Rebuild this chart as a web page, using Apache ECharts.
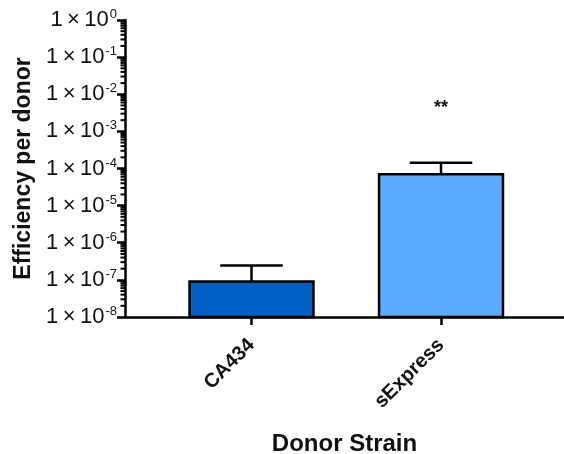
<!DOCTYPE html>
<html>
<head>
<meta charset="utf-8">
<script src="https://cdn.jsdelivr.net/npm/echarts@6/dist/echarts.min.js"></script>
<style>
  html, body { margin: 0; padding: 0; background: #fff; }
  #chart { width: 564px; height: 454px; }
</style>
</head>
<body>
<div id="chart"></div>
<script>
// 数据
const categories = ['CA434', 'sExpress'];
const means = [9e-8, 7e-5];
const upperErr = [2.45e-7, 1.42e-4];
const stars = ['', '**'];
const barColors = ['#0060C6', '#5AABFF'];
const decades = [-8, -7, -6, -5, -4, -3, -2, -1];

const chart = echarts.init(document.getElementById('chart'));
const font = 'Arial, "Liberation Sans", sans-serif';

// 对数小刻度 2..9
const minorTicks = [];
decades.forEach(e => {
  for (let m = 2; m <= 9; m++) minorTicks.push([0, m * Math.pow(10, e)]);
});

const barData = categories.map((c, i) => [i + 1, means[i], upperErr[i], i]);

const option = {
  animation: false,
  grid: { left: 125, right: 0, top: 20, bottom: 137, containLabel: false, outerBoundsMode: 'none' },
  xAxis: {
    type: 'value',
    min: 0.3325,
    max: 2.649,
    name: 'Donor Strain',
    nameLocation: 'middle',
    nameGap: 115,
    nameTextStyle: { fontFamily: font, fontWeight: 'bold', fontSize: 24, color: '#111' },
    splitLine: { show: false },
    axisLine: { show: true, lineStyle: { color: '#000', width: 2.5 } },
    axisTick: { show: true, length: 8, lineStyle: { color: '#000', width: 2.5 }, customValues: [1, 2] },
    axisLabel: {
      customValues: [1, 2],
      rotate: 45,
      margin: 25,
      fontFamily: font,
      fontWeight: 'bold',
      fontSize: 20,
      color: '#111',
      formatter: v => categories[Math.round(v) - 1] || ''
    }
  },
  yAxis: {
    type: 'log',
    logBase: 10,
    min: 1e-8,
    max: 1,
    name: 'Efficiency per donor',
    nameLocation: 'middle',
    nameGap: 89,
    nameTextStyle: { fontFamily: font, fontWeight: 'bold', fontSize: 23, color: '#111' },
    splitLine: { show: false },
    axisLine: { show: true, lineStyle: { color: '#000', width: 2.5 } },
    axisTick: { show: true, length: 8, lineStyle: { color: '#000', width: 2.5 } },
    axisLabel: {
      margin: 8,
      color: '#111',
      formatter: v => {
        const e = Math.round(Math.log10(v));
        return '{b|1\u2009×\u200910}{s|' + e + '}';
      },
      rich: {
        b: { fontFamily: font, fontSize: 22, color: '#111' },
        s: { fontFamily: font, fontSize: 13, color: '#111', padding: [0, 0, 11, 1] }
      }
    }
  },
  series: [
    {
      type: 'custom',
      silent: true,
      data: minorTicks,
      renderItem: (params, api) => {
        const p = api.coord([0.3325, api.value(1)]);
        return {
          type: 'line',
          shape: { x1: p[0] - 4.5, y1: p[1], x2: p[0], y2: p[1] },
          style: { stroke: '#000', lineWidth: 2 }
        };
      },
      z: 3
    },
    {
      type: 'custom',
      data: barData,
      renderItem: (params, api) => {
        const x = api.value(0);
        const i = api.value(3);
        const unit = api.size([1, 0])[0];
        const half = unit * 0.654 / 2;
        const top = api.coord([x, api.value(1)]);
        const base = api.coord([x, 1e-8]);
        const cap = api.coord([x, api.value(2)]);
        const capHalf = unit * 0.33 / 2;
        const children = [
          {
            type: 'line',
            shape: { x1: top[0], y1: top[1], x2: cap[0], y2: cap[1] },
            style: { stroke: '#000', lineWidth: 2.5 }
          },
          {
            type: 'line',
            shape: { x1: cap[0] - capHalf, y1: cap[1], x2: cap[0] + capHalf, y2: cap[1] },
            style: { stroke: '#000', lineWidth: 2.5 }
          },
          {
            type: 'rect',
            shape: { x: top[0] - half, y: top[1], width: half * 2, height: base[1] - top[1] },
            style: { fill: barColors[i], stroke: '#000', lineWidth: 2.5 }
          }
        ];
        if (stars[i]) {
          children.push({
            type: 'text',
            style: {
              x: cap[0], y: cap[1] - 55,
              text: stars[i],
              fontFamily: font, fontWeight: 'bold', fontSize: 18,
              fill: '#111', align: 'center', verticalAlign: 'middle'
            }
          });
        }
        return { type: 'group', children: children };
      },
      z: 2
    }
  ]
};

chart.setOption(option);
</script>
</body>
</html>
